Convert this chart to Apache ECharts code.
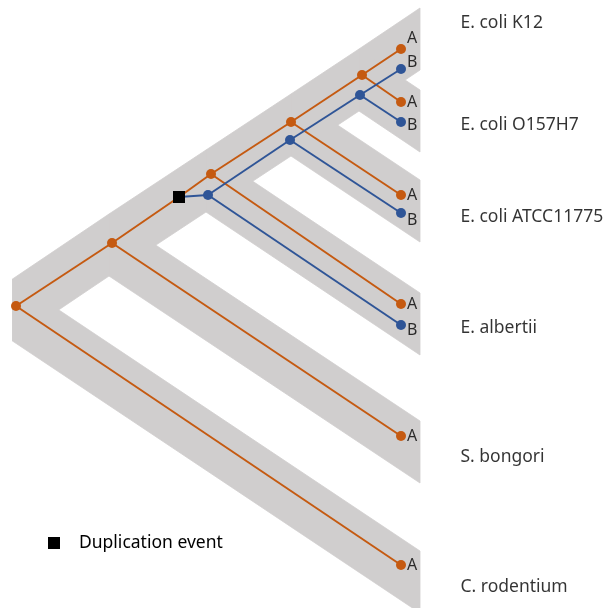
<!DOCTYPE html>
<html>
<head>
<meta charset="utf-8">
<script src="https://cdn.jsdelivr.net/npm/echarts@6/dist/echarts.min.js"></script>
<style>
  html, body { margin: 0; padding: 0; background: #fff; }
  #chart { width: 604px; height: 608px; }
</style>
</head>
<body>
<div id="chart"></div>
<script>
// ---- Species tree (grey bands) ----
const speciesNames = ['E. coli K12', 'E. coli O157H7', 'E. coli ATCC11775', 'E. albertii', 'S. bongori', 'C. rodentium'];
// internal species nodes, from the root up to the K12/O157H7 split
const speciesNodeX = [12.5, 109, 206, 291, 359];
const speciesNodeY = [310, 245, 181, 125, 80];
// species tips (right end of each band)
const speciesTipX = 420;
const speciesTipY = [39, 121, 211, 324, 452, 582];
// branches: [parent node index, child] where 'n#' is an internal node and 't#' a tip
const speciesBranches = [
  [0, 'n1'], [0, 't5'],
  [1, 'n2'], [1, 't4'],
  [2, 'n3'], [2, 't3'],
  [3, 'n4'], [3, 't2'],
  [4, 't0'], [4, 't1']
];

// ---- Gene tree (copies A and B) ----
const geneX = [16, 112, 179, 211, 208, 291, 290, 362, 360, 401, 401, 401, 401, 401, 401, 401, 401, 401, 401];
const geneY = [306, 243, 197, 174, 195, 122, 140, 75, 95, 49, 69, 102, 122, 195, 213, 304, 325, 436, 565];
const geneCopy = ['A', 'A', 'dup', 'A', 'B', 'A', 'B', 'A', 'B', 'A', 'B', 'A', 'B', 'A', 'B', 'A', 'B', 'A', 'A'];
const geneTipLabel = ['', '', '', '', '', '', '', '', '', 'A', 'B', 'A', 'B', 'A', 'B', 'A', 'B', 'A', 'A'];
const geneEdges = [
  [0, 1], [0, 18], [1, 17], [1, 2],
  [2, 3], [2, 4],
  [3, 5], [3, 15], [5, 7], [5, 13], [7, 9], [7, 11],
  [4, 6], [4, 16], [6, 8], [6, 14], [8, 10], [8, 12]
];
const legendLabel = 'Duplication event';

// ---- styling ----
const FONT = 'Noto Sans';
const GREY = '#D0CECE';
const ORANGE = '#C55A11';
const BLUE = '#2F5597';
const BAND = 62;                       // vertical thickness of a species band
const speciesLabelX = 460;
const speciesLabelY = [23, 125, 217, 328, 457, 587];
const tipLabelDy = { 9: -11, 10: -7, 11: 0, 12: 3, 13: 0, 14: 7, 15: 0, 16: 5, 17: 0, 18: 0 };

function speciesPoint(ref) {
  if (typeof ref === 'number') return [speciesNodeX[ref], speciesNodeY[ref]];
  const i = +ref.slice(1);
  return ref[0] === 'n' ? [speciesNodeX[i], speciesNodeY[i]] : [speciesTipX, speciesTipY[i]];
}
const bandData = speciesBranches.map(([p, c]) => {
  const a = speciesPoint(p), b = speciesPoint(c);
  return [a[0], a[1], b[0], b[1]];
});

const categoryIndex = { A: 0, B: 1, dup: 2 };
const geneNodes = geneX.map((x, i) => ({ value: [x, geneY[i]], category: categoryIndex[geneCopy[i]] }));
const geneLinks = geneEdges.map(([s, t]) => ({
  source: s, target: t,
  lineStyle: { color: geneCopy[t] === 'B' ? BLUE : ORANGE }
}));

// tip letters, anchored on the gene tips
const tipLabelData = [];
geneTipLabel.forEach((txt, i) => {
  if (!txt) return;
  tipLabelData.push({
    value: [geneX[i], geneY[i]],
    label: { formatter: txt, offset: [0, tipLabelDy[i] || 0] }
  });
});

const chart = echarts.init(document.getElementById('chart'), null, { renderer: 'canvas' });
chart.setOption({
  animation: false,
  backgroundColor: '#fff',
  grid: { left: 0, right: 0, top: 0, bottom: 0 },
  xAxis: { type: 'value', min: 0, max: 604, show: false },
  yAxis: { type: 'value', min: 0, max: 608, inverse: true, show: false },
  legend: {
    data: [{ name: legendLabel, icon: 'rect' }],
    left: 48, top: 534, padding: 0,
    itemWidth: 12, itemHeight: 12,
    selectedMode: false,
    textStyle: { fontSize: 17.5, fontFamily: FONT, color: '#000', padding: [0, 0, 0, 14] }
  },
  series: [
    {
      type: 'custom',
      silent: true,
      data: bandData,
      renderItem: function (params, api) {
        const x0 = api.value(0), y0 = api.value(1), x1 = api.value(2), y1 = api.value(3);
        const h = BAND / 2;
        const pts = [[x0, y0 - h], [x1, y1 - h], [x1, y1 + h], [x0, y0 + h]].map(p => api.coord(p));
        return {
          type: 'polygon',
          shape: { points: pts },
          style: { fill: GREY, stroke: GREY, lineWidth: 0.8 }
        };
      },
      z: 1
    },
    {
      type: 'graph',
      coordinateSystem: 'cartesian2d',
      layout: 'none',
      silent: true,
      categories: [
        { name: 'A', symbol: 'circle', symbolSize: 10, itemStyle: { color: ORANGE } },
        { name: 'B', symbol: 'circle', symbolSize: 10, itemStyle: { color: BLUE } },
        { name: legendLabel, symbol: 'rect', symbolSize: 12, itemStyle: { color: '#000' } }
      ],
      data: geneNodes,
      links: geneLinks,
      lineStyle: { width: 2, opacity: 1, curveness: 0 },
      emphasis: { disabled: true },
      z: 2
    },
    {
      type: 'scatter',
      silent: true,
      data: tipLabelData,
      symbolSize: 10,
      itemStyle: { color: 'rgba(0,0,0,0)' },
      label: {
        show: true, position: 'right', distance: 1,
        fontSize: 16, fontFamily: FONT, color: '#000'
      },
      z: 3
    },
    {
      type: 'scatter',
      silent: true,
      data: speciesLabelY.map(y => [speciesLabelX, y]),
      symbolSize: 1,
      itemStyle: { color: 'rgba(0,0,0,0)' },
      label: {
        show: true, position: 'right', distance: 0,
        formatter: p => speciesNames[p.dataIndex],
        fontSize: 17.5, fontFamily: FONT, color: '#000'
      },
      z: 3
    }
  ]
});
</script>
</body>
</html>
